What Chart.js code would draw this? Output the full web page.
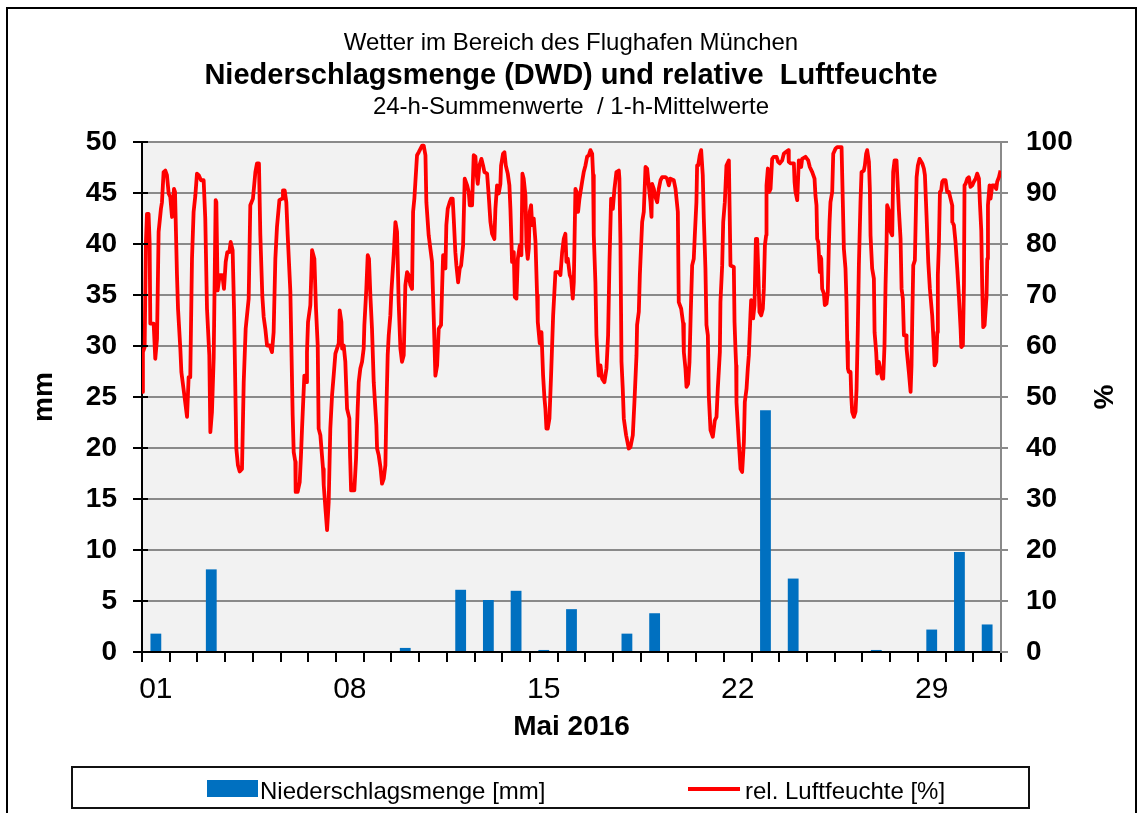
<!DOCTYPE html>
<html>
<head>
<meta charset="utf-8">
<title>Niederschlagsmenge und relative Luftfeuchte</title>
<script src="https://cdn.jsdelivr.net/npm/chart.js@4.4.1/dist/chart.umd.min.js"></script>
<style>
  html, body { margin: 0; padding: 0; background: #fff; overflow: hidden; }
  body { width: 1142px; height: 813px; position: relative; font-family: "Liberation Sans", Arial, sans-serif; color: #000; }
  #frame { position: absolute; left: 6px; top: 7px; width: 1131px; height: 900px; border: 2px solid #000; box-sizing: border-box; }
  #chart { position: absolute; left: 0; top: 0; }
  .title { position: absolute; left: 0; width: 1142px; text-align: center; white-space: pre; }
  #t1 { top: 30px; font-size: 24px; line-height: 24px; }
  #t2 { top: 60px; font-size: 29px; line-height: 29px; font-weight: bold; }
  #t3 { top: 94px; font-size: 24px; line-height: 24px; }
  #legend { position: absolute; left: 71px; top: 766px; width: 959px; height: 43px; border: 2px solid #111; box-sizing: border-box; }
  .item { position: absolute; top: 11px; font-size: 24px; line-height: 24px; white-space: pre; }
  .swatch { position: absolute; }
</style>
</head>
<body>
<div id="frame"></div>
<canvas id="chart" width="1142" height="813"></canvas>
<div class="title" id="t1">Wetter im Bereich des Flughafen München</div>
<div class="title" id="t2">Niederschlagsmenge (DWD) und relative  Luftfeuchte</div>
<div class="title" id="t3">24-h-Summenwerte  / 1-h-Mittelwerte</div>
<div id="legend">
  <div class="swatch" style="left:134px;top:12px;width:51px;height:17px;background:#0070c0"></div>
  <div class="item" style="left:187px">Niederschlagsmenge [mm]</div>
  <div class="swatch" style="left:615px;top:19px;width:52px;height:4px;background:#ff0000"></div>
  <div class="item" style="left:672px">rel. Luftfeuchte [%]</div>
</div>
<script>
const dayLabels = ["01", "02", "03", "04", "05", "06", "07", "08", "09", "10", "11", "12", "13", "14", "15", "16",
  "17", "18", "19", "20", "21", "22", "23", "24", "25", "26", "27", "28", "29", "30", "31"];

// 24-h Niederschlagssumme [mm]
const precipitation = [1.8, 0, 8.1, 0, 0, 0, 0, 0, 0, 0.4, 0, 6.1, 5.1, 6.0, 0.2, 4.2,
  0, 1.8, 3.8, 0, 0, 0, 23.7, 7.2, 0, 0, 0.2, 0, 2.2, 9.8, 2.7];

// rel. Luftfeuchte: Stunden seit 01.05. 00 Uhr / Wert in %
const humHours = [
  0.0, 0.8, 2.3, 3.4, 4.3, 5.7, 6.6, 7.2, 10.1, 11.5, 13.0, 14.4, 16.4, 17.3, 18.7, 20.2, 21.6, 23.1, 24.5, 26.0,
  26.8, 27.7, 28.6, 30.3, 31.2, 33.2, 34.1, 36.7, 39.0, 40.4, 41.8, 43.3, 44.7, 46.2, 47.6, 49.1, 51.1, 53.4, 54.8, 56.3,
  58.3, 59.2, 60.6, 62.1, 63.8, 64.4, 65.5, 67.3, 69.6, 71.0, 72.5, 73.9, 75.6, 76.8, 78.5, 79.7, 81.7, 83.1, 84.6, 86.6,
  88.1, 89.8, 92.4, 93.8, 96.1, 98.2, 99.6, 101.3, 102.5, 104.2, 105.4, 106.8, 108.3, 110.6, 112.6, 114.0, 115.5, 116.9, 119.0,
  121.3, 122.1, 123.6, 125.0, 126.2, 128.5, 129.1, 130.5, 131.4, 132.8, 133.1, 134.8, 136.6, 137.7, 138.6, 140.6, 142.4, 142.9, 143.8, 145.8,
  147.3, 149.3, 150.7, 152.2, 153.0, 154.5, 156.8, 157.4, 159.1, 160.3, 161.7, 163.1, 164.6, 166.0, 167.5, 170.4, 171.2, 172.7, 173.3, 174.7,
  176.1, 177.6, 179.6, 180.2, 181.1, 183.9, 185.4, 186.8, 187.7, 189.1, 190.6, 192.0, 192.6, 194.3, 195.5, 196.6, 197.8, 199.2, 200.7, 203.0,
  203.6, 205.0, 206.5, 207.9, 209.4, 210.8, 211.7, 212.8, 213.7, 215.1, 216.0, 218.0, 219.5, 220.9, 222.3, 223.8, 225.2, 226.7, 228.1, 229.6,
  231.0, 232.5, 233.9, 234.8, 235.9, 238.2, 239.7, 242.6, 244.0, 245.5, 246.3, 248.3,
  251.2, 252.7, 254.1, 255.6, 257.0, 259.0, 259.9, 260.8, 261.9, 262.8, 263.6, 264.8, 266.5, 267.7, 269.1, 270.0, 271.4, 272.3, 273.8, 275.2,
  276.4, 278.1, 279.5, 281.6, 283.0, 283.9, 285.9, 287.3, 288.8, 289.6, 290.8, 292.2, 294.0, 295.4, 296.6, 298.9, 300.3, 301.8, 303.2, 305.2,
  306.1, 307.5, 309.0, 310.4, 311.0, 312.7, 313.9, 315.1, 316.8, 318.2, 319.1, 320.5, 322.0, 322.9, 324.3, 325.5, 327.2, 328.6, 329.5, 330.6,
  332.1, 333.0, 334.1, 335.0, 335.8, 337.0, 337.9, 339.3, 340.8, 342.2, 342.8, 344.5, 345.1, 346.0, 347.4, 348.6, 349.4, 350.3, 351.4, 352.9,
  354.3, 356.1, 358.1, 361.0, 362.4, 363.9, 365.3, 366.7, 367.6, 368.8, 370.5, 371.7, 373.1, 374.0, 375.4, 376.9, 377.7, 378.9,
  381.2, 382.6, 384.1, 385.5, 387.0, 388.4, 389.9, 390.7, 391.3, 392.7, 393.6, 394.8, 395.6, 397.1, 398.5, 400.5, 402.3, 403.7, 404.9, 406.3,
  407.8, 409.2, 410.9, 413.0, 413.5, 414.4, 415.3, 416.4, 417.3, 419.3, 421.6, 423.1, 425.1, 426.5, 428.3, 428.8, 430.3, 431.2, 432.3, 433.2,
  434.6, 436.1, 437.5, 438.9, 440.4, 441.3, 441.8, 443.3, 444.7, 446.2, 447.6, 449.1, 450.5, 453.4, 454.8, 456.3, 457.7, 460.6, 462.1, 464.1,
  464.9, 467.0, 468.7, 469.3, 470.7, 471.6, 473.0, 474.2, 475.3, 476.5, 477.9, 478.8, 480.2, 480.8, 481.7, 483.1, 484.3, 485.7, 486.6, 488.0,
  488.9, 490.1, 490.9, 492.4, 494.4, 496.1, 497.6, 498.7, 500.5, 501.0, 502.5, 503.4, 504.8, 506.2, 508.3, 509.7,
  512.6, 513.2, 514.0, 514.6, 514.9, 516.9, 518.4, 519.8, 521.3, 522.1, 523.6, 524.7, 525.6, 527.0, 527.6, 528.5, 529.3, 530.5, 531.7, 532.8,
  533.7, 534.8, 536.3, 537.7, 538.6, 539.5, 540.6, 540.9, 542.1, 543.2, 544.4, 545.8, 547.2, 549.6, 551.0, 552.4, 554.5, 555.9, 557.4, 559.7,
  560.2, 561.7, 564.6, 565.2, 566.0, 567.5, 568.9, 570.9, 571.8, 574.7, 577.0, 578.4, 580.5, 582.5, 583.3, 584.2, 584.8, 585.7, 587.1, 587.7,
  588.3, 589.1, 590.6, 591.4, 592.9, 594.0, 594.9, 595.5, 596.3, 597.8, 598.7, 600.7, 602.1, 605.9, 607.0, 607.9, 609.3, 610.2, 610.8, 611.4,
  612.2, 613.7, 614.3, 615.1, 616.6, 618.0, 618.9, 620.0, 620.9, 622.3, 623.2, 625.2, 626.1, 627.2, 628.1, 629.6, 630.4, 631.0, 632.4, 633.9,
  634.5, 635.9, 636.8, 638.2,
  641.1, 642.0, 643.1, 644.0, 644.9, 645.4, 646.9, 648.3, 649.8, 650.6, 651.8, 653.5, 654.7, 655.5, 657.0, 657.9, 659.0, 659.9, 661.9, 662.2,
  664.2, 665.7, 666.5, 667.1, 668.0, 669.4, 670.9, 672.0, 673.5, 675.8, 677.2, 678.1, 679.5, 681.0, 682.4, 684.4, 685.9, 686.5, 687.9, 688.8,
  689.3, 690.2, 691.1, 692.2, 693.1, 694.0, 696.0, 697.4, 698.9, 700.3, 701.7, 701.8, 703.2, 704.6, 706.1, 707.5, 709.0, 709.6, 711.0, 711.9,
  712.4, 713.3, 714.8, 716.2, 717.6, 719.1, 720.5, 722.0, 723.4, 724.9, 725.7, 726.9, 727.7, 728.6, 729.8, 731.5, 732.1, 732.7, 734.1, 735.0,
  736.4, 738.4, 739.9, 740.7, 742.2, 743.6,
];
const humValues = [
  51.0, 58.8, 59.8, 80.4, 85.9, 85.9, 80.4, 64.4, 64.4, 57.5, 61.4, 82.4, 86.9, 88.2, 94.1, 94.4, 93.5, 89.9, 89.2, 85.3,
  85.3, 90.8, 90.2, 73.9, 67.3, 59.5, 54.9, 50.3, 46.1, 53.9, 53.9, 77.1, 86.3, 89.5, 93.8, 93.5, 92.5, 92.5, 85.0, 67.3,
  58.2, 43.1, 47.1, 57.8, 88.6, 88.2, 70.9, 73.9, 73.9, 71.2, 76.5, 78.4, 78.4, 80.4, 78.8, 67.3, 39.9, 36.6, 35.4, 35.9,
  52.9, 63.4, 69.3, 87.6, 88.9, 94.1, 95.8, 95.8, 81.7, 69.9, 65.7, 63.4, 60.1, 60.1, 58.8, 62.7, 77.1, 83.3, 88.6,
  88.9, 90.5, 90.5, 88.2, 81.7, 70.6, 63.4, 46.4, 39.2, 37.3, 31.4, 31.4, 33.3, 38.6, 43.8, 54.2, 52.9, 58.8, 64.7, 68.0,
  78.8, 77.1, 67.3, 60.1, 43.8, 42.5, 35.9, 32.7, 27.5, 23.9, 29.4, 43.8, 50.3, 54.2, 58.5, 60.5, 67.0, 64.7, 59.5, 60.1,
  56.9, 47.7, 45.8, 38.6, 31.7, 31.7, 37.9, 47.7, 52.9, 55.6, 56.9, 59.5, 64.1, 71.2, 77.8, 77.1, 69.9, 63.4, 52.9, 44.4,
  39.9, 38.6, 36.3, 33.0, 34.0, 36.6, 47.7, 58.2, 62.1, 66.0, 70.6, 77.8, 84.3, 82.4, 68.6, 59.5, 56.9, 58.2, 71.9, 74.5,
  73.9, 71.9, 71.2, 86.3, 88.9, 97.4, 98.0, 99.3, 99.3, 97.4, 88.2, 81.7,
  76.5, 65.4, 54.2, 56.2, 63.4, 64.1, 71.2, 77.8, 77.8, 75.2, 83.7, 86.9, 88.2, 88.9, 88.9, 85.0, 78.4, 75.8, 72.5, 75.2,
  75.8, 79.7, 92.8, 91.5, 90.2, 87.6, 87.6, 97.4, 97.1, 94.1, 91.8, 95.4, 96.7, 95.4, 94.1, 93.8, 89.5, 84.3, 82.0, 81.0,
  86.9, 91.5, 89.9, 91.8, 95.4, 97.7, 98.0, 95.4, 93.8, 91.5, 86.9, 76.5, 78.4, 69.6, 69.3, 77.1, 79.7, 77.8, 93.8, 92.8,
  89.5, 79.7, 77.1, 79.1, 86.3, 87.6, 83.7, 85.0, 80.4, 69.9, 64.7, 60.5, 62.7, 62.7, 54.2, 49.7, 47.7, 43.8, 43.8, 45.8,
  54.2, 66.0, 74.5, 74.5, 73.9, 78.4, 81.0, 82.0, 76.5, 77.1, 73.9, 73.2, 69.3, 72.5, 90.8, 89.9, 86.3, 88.9,
  92.2, 94.1, 95.4, 97.1, 97.4, 98.4, 97.7, 93.5, 81.7, 72.5, 62.1, 56.9, 54.2, 56.2, 53.6, 52.9, 55.6, 62.1, 76.5, 88.9,
  86.9, 90.8, 94.1, 94.4, 92.8, 80.4, 56.9, 51.6, 45.8, 42.5, 39.9, 40.2, 42.5, 49.0, 58.2, 64.1, 66.7, 73.9, 79.7, 84.3,
  86.3, 95.1, 94.8, 91.5, 88.2, 85.3, 91.8, 90.8, 89.2, 88.2, 90.8, 92.5, 93.1, 93.1, 92.8, 91.5, 92.8, 92.5, 90.8, 86.3,
  68.6, 67.3, 64.4, 58.8, 55.6, 52.0, 52.6, 56.9, 66.7, 75.8, 77.1, 81.7, 88.2, 95.4, 95.4, 97.4, 98.4, 93.5, 85.0, 75.2,
  64.1, 62.1, 50.3, 43.5, 42.2, 45.4, 46.1, 51.6, 58.8, 68.6, 75.8, 84.3, 88.2, 95.4, 96.4, 75.8,
  75.5, 64.7, 59.5, 56.2, 49.0, 41.2, 35.9, 35.3, 41.2, 49.0, 51.6, 55.6, 58.2, 66.0, 69.0, 68.6, 65.4, 68.0, 81.0, 81.0,
  75.2, 66.7, 66.0, 67.3, 71.2, 79.7, 81.7, 91.5, 94.8, 90.2, 90.8, 96.7, 97.1, 97.1, 96.1, 95.8, 96.4, 97.7, 98.0, 98.4,
  96.1, 95.8, 95.8, 92.2, 90.2, 88.6, 96.4, 95.1, 96.7, 97.1, 96.4, 95.1, 94.1, 92.8, 89.5, 87.6, 81.0, 80.4, 74.5, 77.5,
  77.1, 71.2, 70.3, 68.0, 68.3, 70.6, 79.7, 84.3, 88.2, 90.2, 97.7, 98.7, 99.0, 99.0, 88.2, 79.1, 75.2, 68.6, 60.8, 55.6,
  54.9, 54.9, 50.3, 47.1, 46.1, 47.1, 51.6, 63.4, 75.8, 88.2, 94.1, 94.4, 95.4, 97.7, 98.4, 96.1, 90.8, 81.7, 75.2, 73.2,
  62.7, 58.8, 54.6, 56.9,
  53.6, 53.6, 60.1, 71.9, 80.4, 87.6, 86.6, 82.4, 81.7, 94.1, 96.4, 96.4, 90.8, 86.9, 81.0, 71.2, 69.3, 62.1, 62.1, 59.5,
  54.9, 51.0, 56.2, 64.7, 75.8, 76.8, 93.1, 95.4, 96.7, 95.8, 94.8, 93.5, 85.6, 76.5, 71.2, 66.0, 59.5, 56.2, 56.9, 62.7,
  73.9, 79.7, 90.2, 90.5, 92.2, 92.5, 92.5, 90.2, 90.2, 88.9, 87.6, 84.3, 83.7, 80.4, 75.2, 69.9, 63.4, 59.8, 60.1, 71.9,
  91.5, 91.8, 92.8, 93.1, 91.2, 91.5, 92.2, 92.8, 93.8, 92.8, 88.2, 82.7, 71.9, 63.7, 64.1, 69.9, 77.1, 87.6, 91.5, 88.9,
  91.5, 91.5, 90.8, 92.2, 93.1, 94.4,
];

const mmTicks = [0, 5, 10, 15, 20, 25, 30, 35, 40, 45, 50];
const pctTicks = [0, 10, 20, 30, 40, 50, 60, 70, 80, 90, 100];
const labelEvery = 7;

const gridGray = "#8a8a8a";

const plotBackground = {
  id: "plotBackground",
  beforeDraw(chart) {
    const { ctx, chartArea } = chart;
    ctx.save();
    ctx.fillStyle = "#f2f2f2";
    ctx.fillRect(chartArea.left, chartArea.top, chartArea.width, chartArea.height);
    ctx.restore();
  },
};

// the left axis ticks cross into the plot a little
const innerTicks = {
  id: "innerTicks",
  afterDraw(chart) {
    const { ctx, chartArea } = chart;
    const yScale = chart.scales.y;
    ctx.save();
    ctx.strokeStyle = "#000";
    ctx.lineWidth = 2;
    for (const v of mmTicks) {
      const py = yScale.getPixelForValue(v);
      ctx.beginPath();
      ctx.moveTo(chartArea.left, py);
      ctx.lineTo(chartArea.left + 6, py);
      ctx.stroke();
    }
    ctx.restore();
  },
};

Chart.defaults.font.family = '"Liberation Sans", Arial, sans-serif';
Chart.defaults.color = "#000";

const humidity = humHours.map((h, i) => ({ x: h, y: humValues[i] }));

new Chart(document.getElementById("chart"), {
  type: "bar",
  data: {
    labels: dayLabels,
    datasets: [
      {
        type: "line",
        label: "rel. Luftfeuchte [%]",
        data: humidity,
        xAxisID: "xh",
        yAxisID: "y1",
        borderColor: "#ff0000",
        borderWidth: 3.8,
        pointRadius: 0,
        tension: 0,
        borderJoinStyle: "round",
        order: 1,
      },
      {
        label: "Niederschlagsmenge [mm]",
        data: precipitation,
        xAxisID: "x",
        yAxisID: "y",
        backgroundColor: "#0070c0",
        grouped: false,
        barPercentage: 0.39,
        categoryPercentage: 1,
        order: 2,
      },
    ],
  },
  options: {
    responsive: false,
    animation: false,
    devicePixelRatio: 1,
    layout: { padding: { top: 142, left: 0, right: 0, bottom: 0 } },
    plugins: {
      legend: { display: false },
      title: { display: false },
      tooltip: { enabled: false },
    },
    scales: {
      x: {
        type: "category",
        position: "bottom",
        offset: true,
        afterFit: (scale) => { scale.height = 161; },
        grid: {
          offset: true,
          drawOnChartArea: false,
          drawTicks: true,
          tickLength: 10,
          tickColor: "#000",
          lineWidth: 2,
        },
        border: { color: "#000", width: 2 },
        ticks: {
          autoSkip: false,
          maxRotation: 0,
          padding: 10,
          font: { size: 30 },
          callback: function (value, index) {
            return index % labelEvery === 0 ? this.getLabelForValue(value) : "";
          },
        },
        title: {
          display: true,
          text: "Mai 2016",
          font: { size: 28, weight: "bold" },
          padding: { top: 0, bottom: 69 },
        },
      },
      xh: {
        type: "linear",
        display: false,
        offset: false,
        min: 0,
        max: 744,
      },
      y: {
        type: "linear",
        position: "left",
        min: 0,
        max: 50,
        afterFit: (scale) => { scale.width = 142; },
        afterBuildTicks: (scale) => { scale.ticks = mmTicks.map((v) => ({ value: v })); },
        grid: { color: gridGray, lineWidth: 2, tickColor: "#000", tickLength: 9 },
        border: { color: "#000", width: 2 },
        ticks: { padding: 16, font: { size: 28, weight: "bold" } },
        title: {
          display: true,
          text: "mm",
          font: { size: 28, weight: "bold" },
          padding: { top: 27, bottom: 0 },
        },
      },
      y1: {
        type: "linear",
        position: "right",
        min: 0,
        max: 100,
        afterFit: (scale) => { scale.width = 141; },
        afterBuildTicks: (scale) => { scale.ticks = pctTicks.map((v) => ({ value: v })); },
        grid: { drawOnChartArea: false, color: gridGray, lineWidth: 2, tickColor: gridGray, tickLength: 7 },
        border: { color: gridGray, width: 2 },
        ticks: { padding: 18, font: { size: 28, weight: "bold" } },
        title: {
          display: true,
          text: "%",
          font: { size: 28, weight: "bold" },
          padding: { top: 23, bottom: 0 },
        },
      },
    },
  },
  plugins: [plotBackground, innerTicks],
});
</script>
</body>
</html>
